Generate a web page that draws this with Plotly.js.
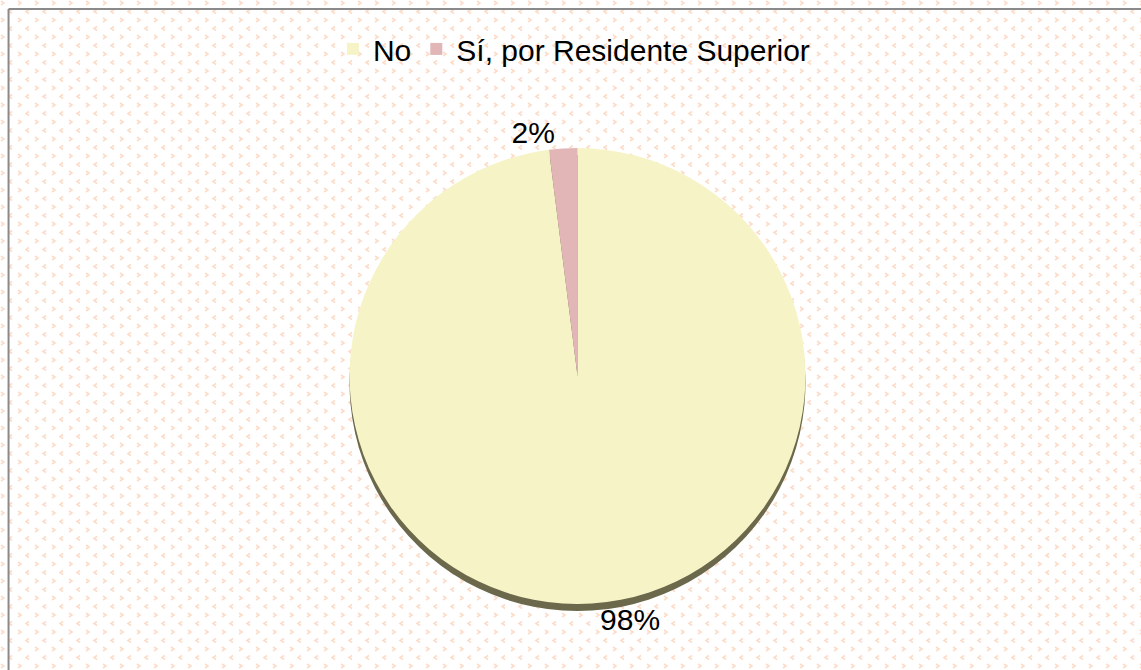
<!DOCTYPE html>
<html>
<head>
<meta charset="utf-8">
<script src="https://cdn.plot.ly/plotly-3.0.1.min.js"></script>
<style>
html,body{margin:0;padding:0;background-color:#ffffff;}
body{
  background-image:url("data:image/svg+xml;utf8,<svg xmlns='http://www.w3.org/2000/svg' width='17' height='17'><g fill='none' stroke='%23fcdcc8' stroke-width='1.6'><polyline points='1,1 4,3 1,5'/><polyline points='12,9.5 9,11.5 12,13.5'/></g></svg>");
  background-size:17px 17px;
}
#chart{width:1141px;height:670px;}
</style>
</head>
<body>
<div id="chart"></div>
<script>
const categories = ["No", "Sí, por Residente Superior"];
const values = [98, 2];
const sliceColors = ["#F6F4C6", "#E2B6B6"];
const shadowColors = ["#6B684B", "#6B684B"];

const shadow = {
  type: "pie",
  labels: categories,
  values: values,
  sort: false,
  direction: "clockwise",
  rotation: 0,
  marker: {colors: shadowColors, line: {width: 0}},
  textinfo: "none",
  hoverinfo: "skip",
  showlegend: false,
  domain: {x: [0.0123, 1], y: [0.0880, 0.7685]}
};

const main = {
  type: "pie",
  labels: categories,
  values: values,
  sort: false,
  direction: "clockwise",
  rotation: 0,
  marker: {colors: sliceColors, line: {width: 0}},
  textinfo: "percent",
  texttemplate: "%{percent:.0%}",
  textposition: "outside",
  outsidetextfont: {family: "Liberation Sans, Arial, sans-serif", size: 30, color: "#000000"},
  automargin: false,
  domain: {x: [0.0123, 1], y: [0.0985, 0.779]}
};

const layout = {
  width: 1141,
  height: 670,
  margin: {l: 0, r: 0, t: 0, b: 0},
  paper_bgcolor: "rgba(0,0,0,0)",
  font: {family: "Liberation Sans, Arial, sans-serif", size: 30, color: "#000000"},
  showlegend: true,
  legend: {
    orientation: "h",
    x: 0.503, xanchor: "center",
    y: 0.927, yanchor: "middle",
    font: {family: "Liberation Sans, Arial, sans-serif", size: 30, color: "#000000"},
    itemwidth: 30,
    traceorder: "normal",
    bgcolor: "rgba(0,0,0,0)"
  },
  shapes: [
    {type: "line", xref: "paper", yref: "paper", x0: 0.0075, x1: 1, y0: 0.9865, y1: 0.9865, line: {color: "#8a8a8a", width: 2}},
    {type: "line", xref: "paper", yref: "paper", x0: 0.0075, x1: 0.0075, y0: 0, y1: 0.9865, line: {color: "#8a8a8a", width: 2}}
  ]
};

Plotly.newPlot("chart", [shadow, main], layout, {displayModeBar: false, staticPlot: true});
</script>
</body>
</html>
